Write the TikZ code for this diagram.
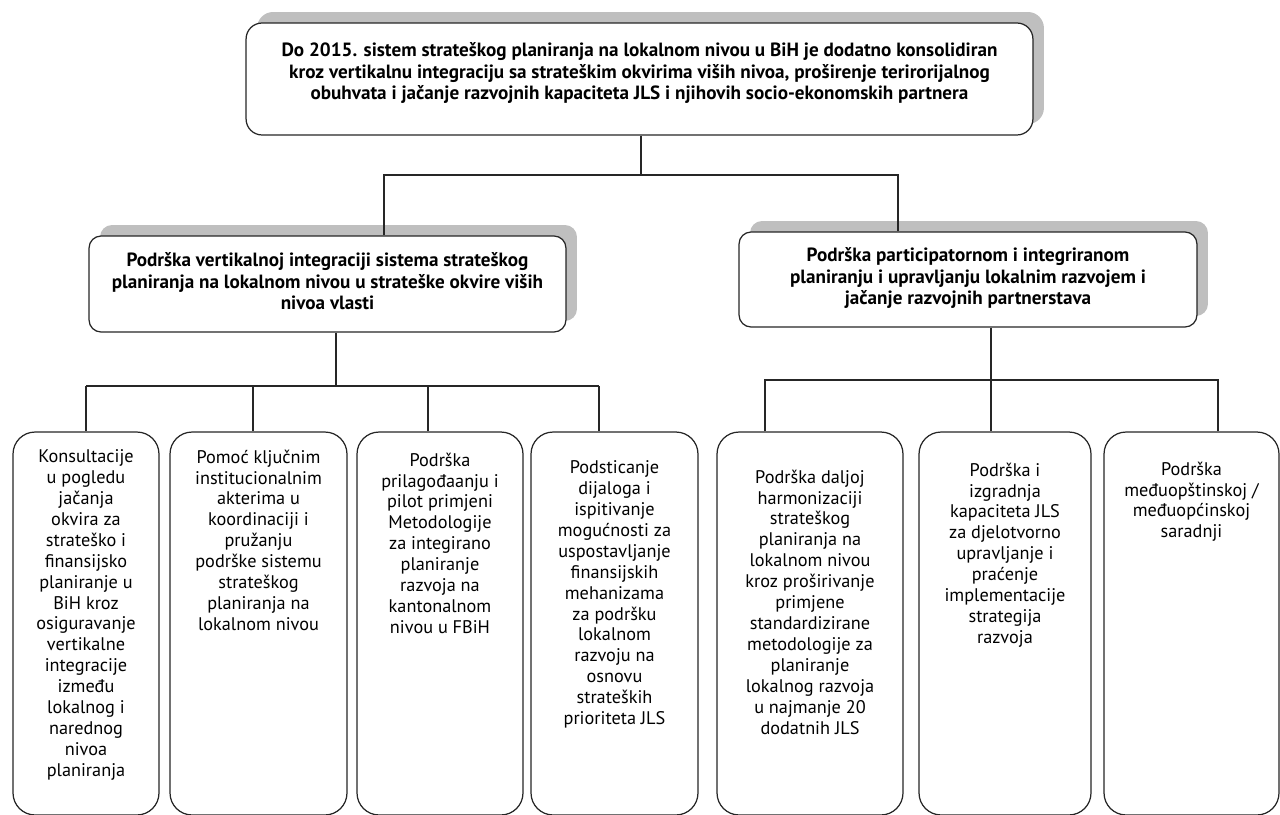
\documentclass[tikz,border=0pt]{standalone}
\usepackage{fontspec}
\setmainfont{PT Sans}
\usetikzlibrary{positioning,shadows}

\tikzset{
  goalbox/.style={draw=black!85, line width=0.7pt, fill=white, inner sep=0pt,
    drop shadow={shadow xshift=0.22cm, shadow yshift=0.22cm, fill=black!25, opacity=1}},
  leafbox/.style={draw=black!85, line width=0.7pt, fill=white, inner sep=0pt,
    rounded corners=0.44cm, minimum height=7.66cm},
  headtext/.style={inner sep=0pt, align=center, font=\bfseries\fontsize{10.9}{12.1}\selectfont},
  leaftext/.style={inner sep=0pt, align=center, font=\fontsize{10.4}{11.9}\selectfont},
  link/.style={draw=black!85, line width=0.6pt}
}

\begin{document}
\begin{tikzpicture}[x=0.02cm, y=-0.02cm]
  \def \ytbar {175}
  \def \ylbar {386}
  \def \yrbar {380}
  \def \yleaf {623.5}
  \useasboundingbox (0,0) rectangle (1280,814);

% goal and the two areas
  \node [goalbox, rounded corners=0.32cm, minimum width=15.74cm, minimum height=2.24cm] (goal) at (639.5,79) {};
  \node [headtext, below=0.4cm of goal.north] (goaltext)
    {Do 2015. sistem strateškog planiranja na lokalnom nivou u BiH je dodatno konsolidiran\\
     kroz vertikalnu integraciju sa strateškim okvirima viših nivoa, proširenje terirorijalnog\\
     obuhvata i jačanje razvojnih kapaciteta JLS i njihovih socio-ekonomskih partnera};

  \node [goalbox, rounded corners=0.24cm, minimum width=9.54cm, minimum height=1.92cm] (vert) at (327.5,284) {};
  \node [headtext, below=0.34cm of vert.north] (verttext)
    {Podrška vertikalnoj integraciji sistema strateškog\\
     planiranja na lokalnom nivou u strateške okvire viših\\
     nivoa vlasti};

  \node [goalbox, rounded corners=0.24cm, minimum width=9.16cm, minimum height=1.90cm] (part) at (968,279.5) {};
  \node [headtext, below=0.32cm of part.north] (parttext)
    {Podrška participatornom i integriranom\\
     planiranju i upravljanju lokalnim razvojem i\\
     jačanje razvojnih partnerstava};

% activities
  \foreach \n/\x/\w in {1/86/2.92, 2/258.5/3.54, 3/440/3.32, 4/614.5/3.34,
                        5/810/3.72, 6/1005/3.44, 7/1191.5/3.50}
    \node [leafbox, minimum width=\w cm] (k\n) at (\x,\yleaf) {};

  \node [leaftext, below=0.36cm of k1.north] (t1)
    {Konsultacije\\ u pogledu\\ jačanja\\ okvira za\\ strateško i\\ finansijsko\\
     planiranje u\\ BiH kroz\\ osiguravanje\\ vertikalne\\ integracije\\ između\\
     lokalnog i\\ narednog\\ nivoa\\ planiranja};
  \node [leaftext, below=0.36cm of k2.north] (t2)
    {Pomoć ključnim\\ institucionalnim\\ akterima u\\ koordinaciji i\\ pružanju\\
     podrške sistemu\\ strateškog\\ planiranja na\\ lokalnom nivou};
  \node [leaftext, below=0.42cm of k3.north] (t3)
    {Podrška\\ prilagođaanju i\\ pilot primjeni\\ Metodologije\\ za integirano\\
     planiranje\\ razvoja na\\ kantonalnom\\ nivou u FBiH};
  \node [leaftext, below=0.58cm of k4.north] (t4)
    {Podsticanje\\ dijaloga i\\ ispitivanje\\ mogućnosti za\\ uspostavljanje\\
     finansijskih\\ mehanizama\\ za podršku\\ lokalnom\\ razvoju na\\ osnovu\\
     strateških\\ prioriteta JLS};
  \node [leaftext, below=0.76cm of k5.north] (t5)
    {Podrška daljoj\\ harmonizaciji\\ strateškog\\ planiranja na\\ lokalnom nivou\\
     kroz proširivanje\\ primjene\\ standardizirane\\ metodologije za\\ planiranje\\
     lokalnog razvoja\\ u najmanje 20\\ dodatnih JLS};
  \node [leaftext, below=0.62cm of k6.north] (t6)
    {Podrška i\\ izgradnja\\ kapaciteta JLS\\ za djelotvorno\\ upravljanje i\\
     praćenje\\ implementacije\\ strategija\\ razvoja};
  \node [leaftext, below=0.60cm of k7.north] (t7)
    {Podrška\\ međuopštinskoj /\\ međuopćinskoj\\ saradnji};

% connectors
  \coordinate (tl) at (384,\ytbar);
  \coordinate (tr) at (898,\ytbar);
  \draw [link] (goal.south -| 641,0) -- (641,\ytbar);
  \draw [link] (vert.north -| tl) |- (tr) -- (part.north -| tr);

  \coordinate (lsplit) at (336,\ylbar);
  \draw [link] (vert.south -| lsplit) -- (lsplit);
  \foreach \n/\x in {1/86, 2/253, 3/428, 4/599}
    \coordinate (lb\n) at (\x,\ylbar);
  \draw [link] (lb1) -- (lb4);
  \foreach \n in {1,...,4}
    \draw [link] (lb\n) -- (lb\n |- k\n.north);

  \coordinate (rsplit) at (991,\yrbar);
  \coordinate (rb5) at (765,\yrbar);
  \coordinate (rb7) at (1218,\yrbar);
  \draw [link] (part.south -| rsplit) -- (rsplit |- k6.north);
  \draw [link] (rb5 |- k5.north) -- (rb5) -- (rb7) -- (rb7 |- k7.north);
\end{tikzpicture}
\end{document}
